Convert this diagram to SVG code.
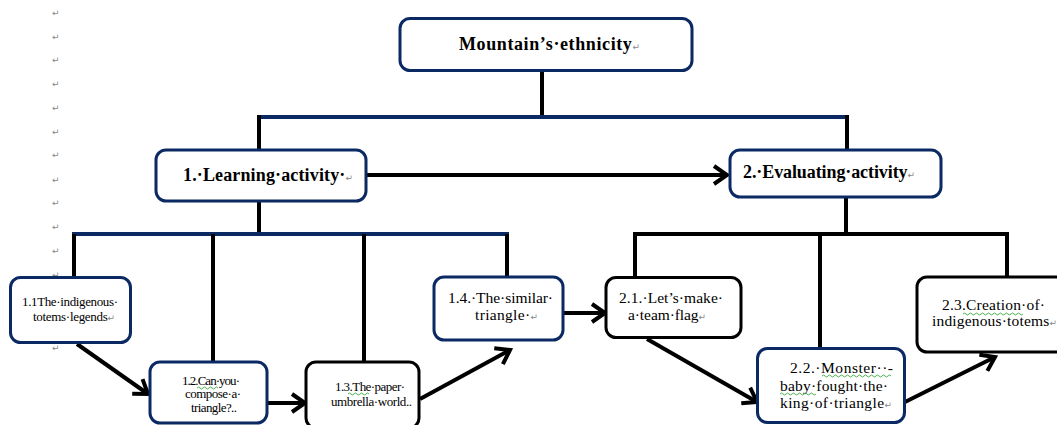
<svg xmlns="http://www.w3.org/2000/svg" width="1057" height="425" viewBox="0 0 1057 425">
<defs>
<style>
.bn{fill:#fff;stroke:#0b2a63;stroke-width:3}
.bk{fill:#fff;stroke:#000;stroke-width:3}
.ln{stroke:#000;stroke-width:4;fill:none}
.nv{stroke:#0b2a63;stroke-width:4;fill:none}
.ar{stroke:#000;stroke-width:4;fill:none;marker-end:url(#ah)}
.tb{font-family:"Liberation Serif",serif;font-weight:bold;font-size:18px;fill:#000}
.ts{font-family:"Liberation Serif",serif;font-size:13px;fill:#000}
.tm{font-family:"Liberation Serif",serif;font-size:15.5px;fill:#000}
.rt{fill:#888;font-family:"DejaVu Sans",sans-serif;font-size:9px;font-weight:normal}
.mg{fill:#888;font-family:"DejaVu Sans",sans-serif;font-size:9px}
.sq{stroke:#4caf50;stroke-width:1;fill:none}
</style>
<marker id="ah" markerUnits="userSpaceOnUse" markerWidth="20" markerHeight="24" viewBox="0 0 20 24" refX="16" refY="12" orient="auto">
<path d="M3,3 L16,12 L3,21" stroke="#000" stroke-width="4" fill="none" stroke-linejoin="miter"/>
</marker>
</defs>

<g id="margin-marks">
<text class="mg" x="52" y="16">↵</text>
<text class="mg" x="52" y="40">↵</text>
<text class="mg" x="52" y="63">↵</text>
<text class="mg" x="52" y="87">↵</text>
<text class="mg" x="52" y="111">↵</text>
<text class="mg" x="52" y="135">↵</text>
<text class="mg" x="52" y="158">↵</text>
<text class="mg" x="52" y="183">↵</text>
<text class="mg" x="52" y="206">↵</text>
<text class="mg" x="52" y="230">↵</text>
<text class="mg" x="52" y="254">↵</text>
<text class="mg" x="52" y="278">↵</text>
<text class="mg" x="52" y="351">↵</text>
</g>

<g id="connectors">
<line class="ln" x1="542" y1="71" x2="542" y2="117"/>
<line class="nv" x1="259" y1="117" x2="849" y2="117"/>
<line class="ln" x1="259" y1="115" x2="259" y2="150"/>
<line class="ln" x1="847" y1="115" x2="847" y2="150"/>
<line class="ar" x1="367" y1="175" x2="727" y2="175"/>
<line class="ln" x1="259" y1="201" x2="259" y2="233"/>
<line class="nv" x1="72" y1="234" x2="509" y2="234"/>
<line class="ln" x1="74" y1="234" x2="74" y2="278"/>
<line class="ln" x1="213" y1="234" x2="213" y2="362"/>
<line class="ln" x1="364" y1="234" x2="364" y2="362"/>
<line class="ln" x1="507" y1="234" x2="507" y2="277"/>
<line class="ln" x1="846" y1="197" x2="846" y2="234"/>
<line class="ln" x1="633" y1="234" x2="1009" y2="234"/>
<line class="ln" x1="635" y1="232" x2="635" y2="278"/>
<line class="ln" x1="820" y1="234" x2="820" y2="349"/>
<line class="ln" x1="1007" y1="232" x2="1007" y2="277"/>
<line class="ar" x1="77" y1="344" x2="148" y2="394"/>
<line class="ar" x1="267" y1="403" x2="305" y2="403"/>
<line class="ar" x1="420" y1="399" x2="510" y2="350"/>
<line class="ar" x1="563" y1="313" x2="605" y2="313"/>
<line class="ar" x1="647" y1="339" x2="757" y2="402"/>
<line class="ar" x1="905" y1="402" x2="995" y2="357"/>
</g>

<g id="node-top">
<rect class="bn" x="400" y="18.5" width="292" height="52" rx="10"/>
<text class="tb" x="459" y="50" textLength="181">Mountain’s·ethnicity<tspan class="rt">↵</tspan></text>
</g>

<g id="node-1">
<rect class="bn" x="156" y="150" width="210" height="51" rx="10"/>
<text class="tb" x="183" y="181" textLength="170">1.·Learning·activity·<tspan class="rt">↵</tspan></text>
</g>

<g id="node-2">
<rect class="bn" x="730" y="150" width="211" height="47" rx="10"/>
<text class="tb" x="743" y="178" textLength="172">2.·Evaluating·activity<tspan class="rt">↵</tspan></text>
</g>

<g id="node-1-1">
<rect class="bn" x="10.5" y="277.5" width="120" height="65" rx="10"/>
<text class="ts" x="22" y="306" textLength="96">1.1The·indigenous·</text>
<text class="ts" x="33" y="321" textLength="82">totems·legends<tspan class="rt">↵</tspan></text>
</g>

<g id="node-1-2">
<rect class="bn" x="150" y="362" width="117" height="61" rx="10"/>
<text class="ts" x="182" y="385" textLength="58">1.2.Can·you·</text>
<text class="ts" x="185" y="398" textLength="56">compose·a·</text>
<text class="ts" x="191" y="412" textLength="46">triangle?..</text>
<path class="sq" d="M197,388 q1.5,-2 3,0 t3,0 t3,0 t3,0 t3,0 t3,0 t3,0"/>
</g>

<g id="node-1-3">
<rect class="bk" x="306" y="362" width="113" height="66" rx="10"/>
<text class="ts" x="335" y="391" textLength="70">1.3.The·paper·</text>
<text class="ts" x="331" y="406" textLength="81">umbrella·world..</text>
<path class="sq" d="M348,394 q1.5,-2 3,0 t3,0 t3,0 t3,0 t3,0 t3,0 t3,0"/>
</g>

<g id="node-1-4">
<rect class="bn" x="434" y="277" width="129" height="63" rx="10"/>
<text class="tm" x="448" y="303" textLength="105">1.4.·The·similar·</text>
<text class="tm" x="475" y="320" textLength="63">triangle·<tspan class="rt">↵</tspan></text>
</g>

<g id="node-2-1">
<rect class="bk" x="606" y="277.5" width="135" height="60" rx="10"/>
<text class="tm" x="619" y="303" textLength="104">2.1.·Let’s·make·</text>
<text class="tm" x="628" y="320" textLength="78">a·team·flag<tspan class="rt">↵</tspan></text>
</g>

<g id="node-2-2">
<rect class="bn" x="757.5" y="348.5" width="147" height="74" rx="10"/>
<text class="tm" x="790" y="373" textLength="103">2.2.·Monster··-</text>
<text class="tm" x="780" y="391" textLength="108">baby·fought·the·</text>
<text class="tm" x="780" y="408" textLength="112">king·of·triangle<tspan class="rt">↵</tspan></text>
<path class="sq" d="M822,376 q1.5,-2 3,0 t3,0 t3,0 t3,0 t3,0 t3,0 t3,0 t3,0 t3,0 t3,0 t3,0 t3,0 t3,0 t3,0 t3,0 t3,0 t3,0 t3,0 t3,0 t3,0 t3,0 t3,0 t3,0"/>
<path class="sq" d="M780,394 q1.5,-2 3,0 t3,0 t3,0 t3,0 t3,0 t3,0 t3,0 t3,0 t3,0 t3,0 t3,0 t3,0"/>
</g>

<g id="node-2-3">
<rect class="bk" x="917" y="277" width="150" height="75" rx="10"/>
<text class="tm" x="942" y="310" textLength="103">2.3.Creation·of·</text>
<text class="tm" x="932" y="326" textLength="125">indigenous·totems<tspan class="rt">↵</tspan></text>
<path class="sq" d="M963,314 q1.5,-2 3,0 t3,0 t3,0 t3,0 t3,0 t3,0 t3,0 t3,0 t3,0 t3,0 t3,0 t3,0 t3,0 t3,0 t3,0 t3,0 t3,0 t3,0 t3,0 t3,0"/>
</g>
</svg>
